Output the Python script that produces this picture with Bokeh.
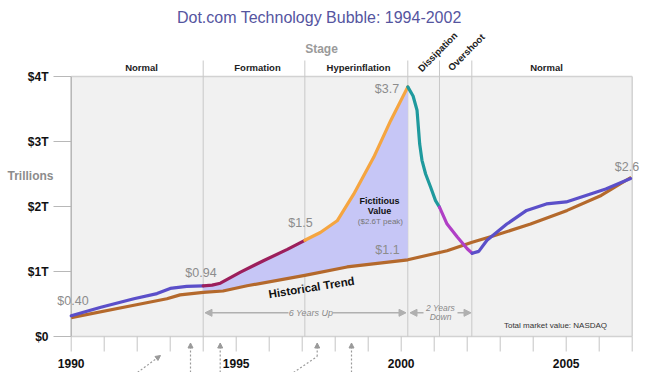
from bokeh.plotting import figure
from bokeh.models import Range1d, Arrow, NormalHead
from bokeh.core.properties import value
from bokeh.embed import file_html
from bokeh.resources import INLINE

# ---------------- data ----------------
title_text = "Dot.com Technology Bubble:  1994-2002"
year_ticks = list(range(1990, 2008))
year_label_pos = [1990, 1995, 2000, 2005]
year_labels = ["1990", "1995", "2000", "2005"]
y_ticks = [0, 1, 2, 3, 4]
y_tick_labels = ["$0", "$1T", "$2T", "$3T", "$4T"]

stage_bounds = [1994.0, 1997.08, 2000.2, 2001.16, 2002.14]
stage_names_flat = ["Normal", "Formation", "Hyperinflation", "Normal"]
stage_names_rot = ["Dissipation", "Overshoot"]

# NASDAQ total market value (trillions), by phase
normal1_x = [1990.0, 1990.9, 1991.9, 1992.6, 1993.0, 1993.5, 1994.0]
normal1_y = [0.32, 0.45, 0.58, 0.66, 0.74, 0.77, 0.78]
formation_x = [1994.0, 1994.27, 1994.52, 1995.13, 1995.84, 1996.55, 1997.08]
formation_y = [0.78, 0.79, 0.82, 0.99, 1.17, 1.34, 1.48]
hyper_x = [1997.08, 1997.55, 1998.06, 1998.56, 1999.17, 1999.68, 2000.2]
hyper_y = [1.48, 1.60, 1.78, 2.19, 2.76, 3.32, 3.84]
dissip_x = [2000.2, 2000.36, 2000.48, 2000.56, 2000.63, 2000.74, 2000.89, 2001.04, 2001.16]
dissip_y = [3.84, 3.70, 3.48, 2.96, 2.71, 2.50, 2.30, 2.09, 1.99]
overshoot_x = [2001.16, 2001.39, 2001.70, 2002.0, 2002.15]
overshoot_y = [1.99, 1.73, 1.53, 1.35, 1.28]
normal2_x = [2002.15, 2002.35, 2002.6, 2003.2, 2003.8, 2004.4, 2005.0, 2005.6, 2006.2, 2006.95]
normal2_y = [1.28, 1.31, 1.48, 1.73, 1.94, 2.04, 2.07, 2.17, 2.27, 2.43]

# Historical trend
trend_x = [1990.0, 1991.9, 1992.9, 1993.3, 1994.0, 1994.6, 1995.33, 1997.08, 1998.36,
           2000.2, 2001.39, 2002.15, 2002.81, 2003.92, 2005.03, 2006.06, 2006.97]
trend_y = [0.29, 0.48, 0.58, 0.64, 0.68, 0.70, 0.78, 0.94, 1.07,
           1.18, 1.32, 1.45, 1.55, 1.73, 1.94, 2.17, 2.45]

value_labels = ["$0.40", "$0.94", "$1.5", "$3.7", "$1.1", "$2.6"]

# ---------------- layout helpers (page pixel -> data) ----------------
W, H = 645, 372

def px(page_x):
    return 1990 + (page_x - 70.7) / 33.0

def py(page_y):
    return (336.0 - page_y) / 65.0

FONT = value("Liberation Sans")

p = figure(width=W, height=H,
           x_range=Range1d(px(0), px(W)), y_range=Range1d(py(H), py(0)),
           x_axis_type=None, y_axis_type=None,
           output_backend="svg", toolbar_location=None,
           min_border=0, outline_line_color=None,
           background_fill_color="white", border_fill_color="white")


def txt(xs, ys, texts, size, color, style="normal", align="center",
        baseline="middle", angle=0.0):
    p.text(x=xs, y=ys, text=texts, text_font=FONT, text_font_size=f"{size}px",
           text_font_style=style, text_color=color, text_align=align,
           text_baseline=baseline, angle=angle)


# plot box
x_lo, x_hi = 1990.0, 2007.0
p.quad(left=[x_lo], right=[x_hi], bottom=[0], top=[4], fill_color="#f1f1f1", line_color=None)

# y ticks
p.segment(x0=[px(53)] * len(y_ticks), y0=y_ticks, x1=[x_lo] * len(y_ticks), y1=y_ticks,
          line_color="#b8b8b8", line_width=1)
# box borders
p.segment(x0=[x_lo, x_lo, x_hi], y0=[4, 0, 0], x1=[x_hi, x_hi, x_hi], y1=[4, 0, 4],
          line_color="#d2d2d2", line_width=1.5)
p.segment(x0=[x_lo], y0=[0], x1=[x_lo], y1=[4], line_color="#b5b5b5", line_width=1.5)

# year ticks below the box
p.segment(x0=year_ticks, y0=[0] * len(year_ticks), x1=year_ticks,
          y1=[py(351)] * len(year_ticks), line_color="#c4c4c4", line_width=1)

# stage dividers
p.segment(x0=stage_bounds, y0=[0] * len(stage_bounds), x1=stage_bounds,
          y1=[py(60)] * len(stage_bounds), line_color="#c8c8c8", line_width=1)

# fictitious value fill (nasdaq above trend, 1994 - 2000.2)
bubble_x = formation_x + hyper_x[1:]
bubble_y = formation_y + hyper_y[1:]
tr = [(x, y) for x, y in zip(trend_x, trend_y) if 1994.0 <= x <= 2000.2]
patch_x = bubble_x + [x for x, _ in reversed(tr)]
patch_y = bubble_y + [y for _, y in reversed(tr)]
p.patch(patch_x, patch_y, fill_color="#c6c6f6", line_color=None)

# historical trend
p.line(trend_x, trend_y, line_color="#b4692c", line_width=3.2, line_join="round")

# NASDAQ phases
for xs, ys, col in [(normal1_x, normal1_y, "#5b4fc9"),
                    (formation_x, formation_y, "#9c1f5c"),
                    (hyper_x, hyper_y, "#f5a540"),
                    (dissip_x, dissip_y, "#1f9a9e"),
                    (overshoot_x, overshoot_y, "#b03fc6"),
                    (normal2_x, normal2_y, "#5b4fc9")]:
    p.line(xs, ys, line_color=col, line_width=3.2, line_join="round", line_cap="round")

# value labels
lab_px = [(72.5, 300), (200.5, 272), (300, 222), (386.5, 88), (387, 249), (626.5, 166)]
txt([px(a) for a, _ in lab_px], [py(b) for _, b in lab_px], value_labels, 12.5, "#8c8c8c")

# fictitious value annotation
txt([px(379), px(379)], [py(200), py(210.5)], ["Fictitious", "Value"], 9, "#111111", style="bold")
txt([px(380)], [py(221)], ["($2.6T peak)"], 8, "#777777")

# historical trend label
txt([px(311)], [py(287)], ["Historical Trend"], 11.5, "#111111", style="bold", angle=0.157)

# duration arrows
grey = "#b0b0b0"
def arrow(x0, y0, x1, y1, color=grey, width=1.5, size=7, dash="solid"):
    p.add_layout(Arrow(end=NormalHead(size=size, fill_color=color, line_color=color),
                       x_start=px(x0), y_start=py(y0), x_end=px(x1), y_end=py(y1),
                       line_color=color, line_width=width, line_dash=dash))

arrow(288, 312.3, 204.5, 312.3)
arrow(332, 312.3, 405.5, 312.3)
arrow(423, 312.3, 409.5, 312.3)
arrow(457, 312.3, 470.5, 312.3)
txt([px(310.5)], [py(312.5)], ["6 Years Up"], 9, "#8a8a8a", style="italic")
txt([px(440), px(440)], [py(307.5), py(316.5)], ["2 Years", "Down"], 8.5, "#8a8a8a", style="italic")
txt([px(555)], [py(325)], ["Total market value: NASDAQ"], 8, "#333333")

# dotted event arrows below the axis
dot = "#9a9a9a"
arrow(137, 372, 160, 355, color=dot, width=1.2, size=5, dash="2 2")
arrow(190, 372, 190, 342.5, color=dot, width=1.2, size=5, dash="2 2")
arrow(219.7, 372, 219.7, 342.5, color=dot, width=1.2, size=5, dash="2 2")
arrow(351, 372, 351, 342.5, color=dot, width=1.2, size=5, dash="2 2")
p.line([px(293), px(316.7)], [py(372), py(356)], line_color=dot, line_width=1.2, line_dash="2 2")
arrow(316.7, 356, 316.7, 342.5, color=dot, width=1.2, size=5, dash="2 2")

# axis labels
txt([px(48)] * len(y_ticks), y_ticks, y_tick_labels, 12, "#111111", style="bold", align="right")
txt([px(30)], [py(175)], ["Trillions"], 12, "#8c8c8c", style="bold")
txt(year_label_pos, [py(362.5)] * len(year_label_pos), year_labels, 12, "#111111", style="bold")

# title and stage labels
txt([px(321)], [py(17)], [title_text], 16, "#55559f")
txt([px(321)], [py(48)], ["Stage"], 12, "#9a9a9a", style="bold")
txt([px(141), px(257), px(358), px(546)], [py(66.5)] * 4, stage_names_flat, 9.5, "#222222", style="bold")
txt([px(419), px(449)], [py(69.5), py(68.5)], stage_names_rot, 9.5, "#222222", style="bold",
    align="left", baseline="alphabetic", angle=0.79)

open("out.html", "w").write(file_html(p, INLINE))
